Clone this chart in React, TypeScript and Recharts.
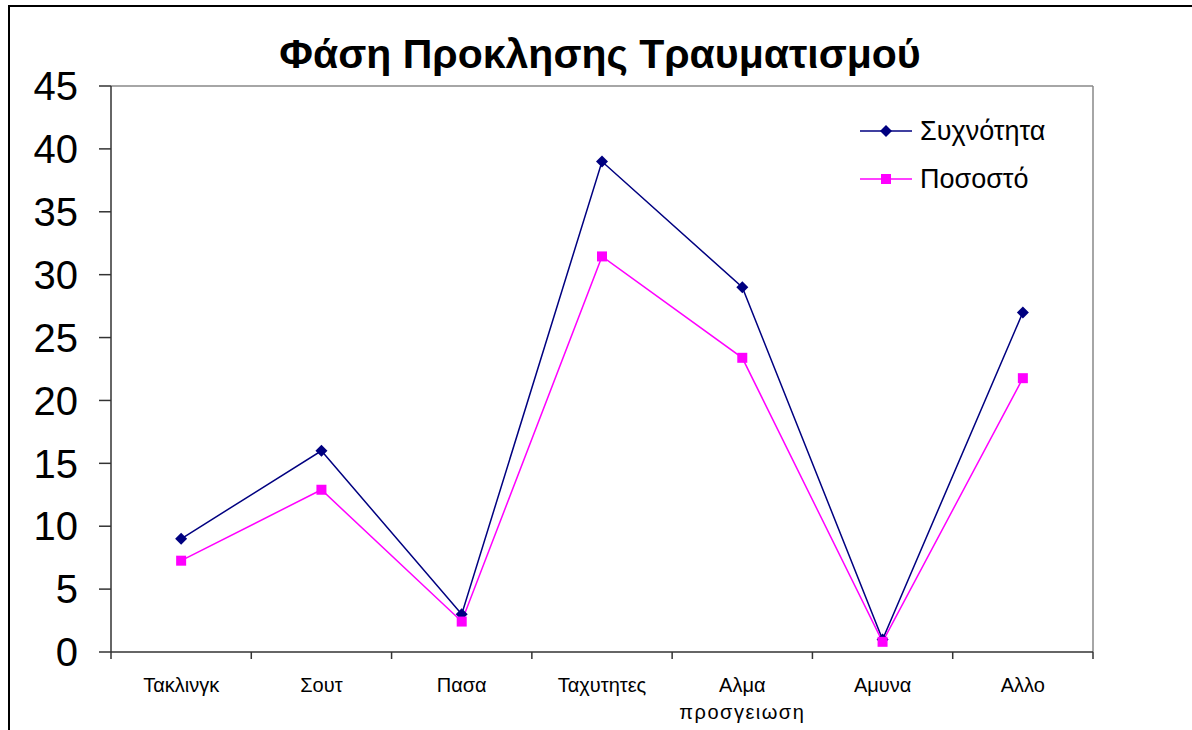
import React from 'react';
import { LineChart, Line, XAxis, YAxis, Legend, CartesianGrid } from 'recharts';

// Injury phase: counts and share of total per phase of play
const categories = ['Τακλινγκ', 'Σουτ', 'Πασα', 'Ταχυτητες', 'Αλμα προσγειωση', 'Αμυνα', 'Αλλο'];
const frequency = [9, 16, 3, 39, 29, 1, 27];
const percentage = [7.26, 12.9, 2.42, 31.45, 23.39, 0.81, 21.77];
const yTicks = [0, 5, 10, 15, 20, 25, 30, 35, 40, 45];

const seriesNames = { freq: 'Συχνότητα', pct: 'Ποσοστό' };
const NAVY = '#000080';
const MAGENTA = '#FF00FF';

const data = categories.map((name, i) => ({ name, freq: frequency[i], pct: percentage[i] }));

const W = 1192;
const H = 730;
const M = { top: 86, right: 99, bottom: 38, left: 51 };
const Y_AXIS_W = 60;
const X_AXIS_H = 40;
const PLOT_W = W - M.left - Y_AXIS_W - M.right;
const HALF_BAND = PLOT_W / categories.length / 2;
const FONT = '"Liberation Sans", Arial, sans-serif';

const Diamond = (props: any) => {
  const { cx, cy, fill } = props;
  if (cx == null || cy == null) return null;
  const r = 6;
  return <polygon points={`${cx},${cy - r} ${cx + r},${cy} ${cx},${cy + r} ${cx - r},${cy}`} fill={fill} />;
};

const Square = (props: any) => {
  const { cx, cy, fill } = props;
  if (cx == null || cy == null) return null;
  const s = 10;
  return <rect x={cx - s / 2} y={cy - s / 2} width={s} height={s} fill={fill} />;
};

const CategoryTick = (props: any) => {
  const { x, y, payload, index } = props;
  const lines = String(payload.value).split(' ');
  const last = index === categories.length - 1;
  return (
    <g>
      <line x1={x - HALF_BAND} x2={x - HALF_BAND} y1={y} y2={y + 7} stroke="#333" strokeWidth={1.5} />
      {last && <line x1={x + HALF_BAND} x2={x + HALF_BAND} y1={y} y2={y + 7} stroke="#333" strokeWidth={1.5} />}
      {lines.map((t, i) => (
        <text
          key={i}
          x={x}
          y={y + 40 + i * 27}
          textAnchor="middle"
          fontSize={20}
          fontFamily={FONT}
          fill="#000"
          letterSpacing={i > 0 ? 1.5 : 0}
        >
          {t}
        </text>
      ))}
    </g>
  );
};

const LegendContent = () => (
  <div style={{ fontFamily: FONT, fontSize: 27, color: '#000', lineHeight: '48px' }}>
    {[
      { name: seriesNames.freq, color: NAVY, shape: 'diamond' },
      { name: seriesNames.pct, color: MAGENTA, shape: 'square' },
    ].map((item) => (
      <div key={item.name} style={{ display: 'flex', alignItems: 'center', height: 48 }}>
        <svg width={56} height={20} style={{ marginRight: 4 }}>
          <line x1={0} x2={52} y1={10} y2={10} stroke={item.color} strokeWidth={1.5} />
          {item.shape === 'diamond' ? (
            <polygon points="26,4 32,10 26,16 20,10" fill={item.color} />
          ) : (
            <rect x={21} y={5} width={10} height={10} fill={item.color} />
          )}
        </svg>
        <span>{item.name}</span>
      </div>
    ))}
  </div>
);

export default function App() {
  return (
    <div
      style={{
        position: 'absolute',
        left: 0,
        top: 0,
        width: W,
        height: H,
        overflow: 'hidden',
        background: '#fff',
      }}
    >
      <div
        style={{
          position: 'absolute',
          left: 8,
          top: 5,
          width: 1300,
          height: 900,
          border: '2px solid #000',
        }}
      />
      <div
        style={{
          position: 'absolute',
          left: 0,
          top: 31,
          width: 1200,
          textAlign: 'center',
          fontFamily: FONT,
          fontWeight: 'bold',
          fontSize: 41,
          color: '#000',
        }}
      >
        Φάση Προκλησης Τραυματισμού
      </div>
      <div style={{ position: 'absolute', left: 0, top: 0 }}>
        <LineChart width={W} height={H} data={data} margin={M}>
          {/* plot frame: top and right edges only */}
          <CartesianGrid
            stroke="#888"
            strokeWidth={1.5}
            horizontalCoordinatesGenerator={({ offset }: any) => [offset.top]}
            verticalCoordinatesGenerator={({ offset }: any) => [offset.left + offset.width]}
          />
          <XAxis
            dataKey="name"
            height={X_AXIS_H}
            interval={0}
            padding={{ left: HALF_BAND, right: HALF_BAND }}
            tickLine={false}
            tickSize={0}
            tickMargin={0}
            tick={<CategoryTick />}
            axisLine={{ stroke: '#333', strokeWidth: 1.5 }}
          />
          <YAxis
            width={Y_AXIS_W}
            domain={[0, 45]}
            ticks={yTicks}
            interval={0}
            tickSize={12}
            tickMargin={21}
            tickLine={{ stroke: '#333', strokeWidth: 1.5 }}
            axisLine={{ stroke: '#333', strokeWidth: 1.5 }}
            tick={{ fontSize: 40, fontFamily: FONT, fill: '#000' }}
          />
          <Legend
            layout="horizontal"
            verticalAlign="middle"
            align="center"
            content={<LegendContent />}
            wrapperStyle={{ position: 'absolute', top: 107, left: 860, width: 220 }}
          />
          <Line
            type="linear"
            dataKey="freq"
            name={seriesNames.freq}
            stroke={NAVY}
            strokeWidth={1.5}
            dot={<Diamond fill={NAVY} />}
            activeDot={false}
            isAnimationActive={false}
          />
          <Line
            type="linear"
            dataKey="pct"
            name={seriesNames.pct}
            stroke={MAGENTA}
            strokeWidth={1.5}
            dot={<Square fill={MAGENTA} />}
            activeDot={false}
            isAnimationActive={false}
          />
        </LineChart>
      </div>
    </div>
  );
}
